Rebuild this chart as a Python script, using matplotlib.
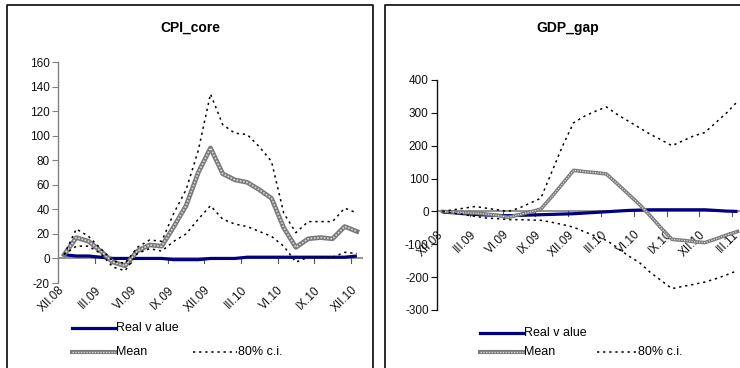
import matplotlib
matplotlib.use("Agg")
import matplotlib.pyplot as plt

plt.rcParams['font.family'] = ['Liberation Sans Narrow', 'Liberation Sans', 'DejaVu Sans']
plt.rcParams['axes.unicode_minus'] = False

# ---- data ----
cpi_labels = ["XII.08", "III.09", "VI.09", "IX.09", "XII.09", "III.10", "VI.10", "IX.10", "XII.10"]
cpi_real = [3, 2, 2, 1, 0, 0, 0, 0, 0, -1, -1, -1, 0, 0, 0, 1, 1, 1, 1, 1, 1, 1, 1, 1, 2]
cpi_mean = [3, 17, 14, 6, -3, -6, 6, 11, 10, 26, 43, 70, 90, 69, 64, 62, 56, 49, 25, 9, 16, 17, 16, 26, 22]
cpi_upper = [3, 24, 18, 8, -2, -4, 9, 15, 14, 37, 56, 88, 134, 109, 102, 101, 91, 79, 37, 21, 30, 30, 30, 41, 37]
cpi_lower = [3, 10, 10, 4, -7, -10, 4, 8, 6, 14, 20, 32, 43, 32, 28, 26, 22, 18, 10, -3, 1, 1, 1, 5, 4]

gdp_labels = ["XII.08", "III.09", "VI.09", "IX.09", "XII.09", "III.10", "VI.10", "IX.10", "XII.10", "III.11"]
gdp_real = [-2, -4, -7, -9, -11, -12, -13, -12, -11, -10, -9, -8, -7, -5,
            -3, -1, 1, 3, 4, 5, 5, 5, 5, 5, 5, 3, 1, 0]
gdp_mean = [0, -2, -4, -5, -8, -12, -18, -10, -2, 7, 45, 85, 125, 121,
            118, 114, 84, 53, 22, -13, -50, -85, -88, -92, -95, -84, -72, -61]
gdp_upper = [0, 5, 10, 15, 10, 5, 0, 10, 25, 40, 120, 200, 270, 290,
             305, 318, 295, 275, 255, 235, 218, 200, 215, 230, 240, 270, 300, 335]
gdp_lower = [0, -5, -10, -15, -20, -22, -25, -25, -26, -27, -33, -40, -48, -62,
             -75, -88, -110, -135, -155, -185, -210, -235, -228, -222, -215, -205, -193, -180]

W, H = 740, 368
fig = plt.figure(figsize=(W / 100, H / 100), dpi=100)

# full-figure overlay in pixel coordinates for frames and legends
bg = fig.add_axes([0, 0, 1, 1], zorder=0)
bg.set_xlim(0, W)
bg.set_ylim(H, 0)
bg.axis("off")
for x0, x1 in [(7, 373), (385, 760)]:
    bg.plot([x0, x0, x1, x1], [380, 5, 5, 380], color="#1a1a1a", lw=1.3, clip_on=False)

NAVY = "#000080"
DOT = (0, (1.5, 2.5))


def px_axes(left, right, top, bottom):
    return fig.add_axes([left / W, (H - bottom) / H, (right - left) / W, (bottom - top) / H])


def panel(ax, real, mean, upper, lower, labels, ylim, step, title, title_x,
          lab_y, spine_col, mean_lw):
    n = len(mean)
    x = list(range(n))
    ax.patch.set_alpha(0)
    ax.axhline(0, color="#808080", lw=1.2, zorder=1)
    ax.plot(x, real, color=NAVY, lw=2.3, solid_capstyle="butt", zorder=3)
    ax.plot(x, mean, color="#7a7a7a", lw=mean_lw, zorder=4)
    ax.plot(x, mean, color="#dcdcdc", lw=mean_lw * 0.35, ls=(0, (1, 1)), zorder=5)
    ax.plot(x, upper, color="black", lw=1.1, ls=DOT, zorder=6)
    ax.plot(x, lower, color="black", lw=1.1, ls=DOT, zorder=6)
    ax.set_xlim(-0.5, n - 0.5)
    ax.set_ylim(*ylim)
    for s in ["top", "right", "bottom"]:
        ax.spines[s].set_visible(False)
    ax.spines["left"].set_color(spine_col)
    ax.spines["left"].set_linewidth(1.0)
    ax.set_yticks(range(ylim[0], ylim[1] + 1, step))
    ax.tick_params(axis="y", direction="out", length=4, width=0.8, color=spine_col,
                   labelsize=8.5, pad=2, labelcolor="#111111")
    ax.set_xticks([])
    # category tick marks every 3 months at the zero line
    for b in range(3, n + 1, 3):
        ax.plot([b - 0.5, b - 0.5], [0, -(ylim[1] - ylim[0]) * 0.02], color="#555555",
                lw=0.8, clip_on=False)
    for i, lab in enumerate(labels):
        ax.text(i * 3 - 0.5, lab_y, lab, rotation=45, rotation_mode="anchor",
                ha="right", va="top", fontsize=8.5, color="#111111")
    fig.text(title_x / W, (H - 28) / H, title, ha="center", va="center",
             fontsize=10, fontweight="bold")


ax1 = px_axes(58, 363, 62, 283)
panel(ax1, cpi_real, cpi_mean, cpi_upper, cpi_lower, cpi_labels, (-20, 160), 20,
      "CPI_core", 190, -21, "#808080", 3.4)

ax2 = px_axes(437, 743, 80, 310)
panel(ax2, gdp_real, gdp_mean, gdp_upper, gdp_lower, gdp_labels, (-300, 400), 100,
      "GDP_gap", 568, -52, "#111111", 2.6)


def legend(x0, y_real, y_mean, xd0, xd1):
    bg.plot([x0, x0 + 43], [y_real, y_real], color=NAVY, lw=2.3)
    bg.text(x0 + 44, y_real, "Real v alue", va="center", ha="left", fontsize=9)
    bg.plot([x0, x0 + 43], [y_mean, y_mean], color="#7a7a7a", lw=3.0)
    bg.plot([x0, x0 + 43], [y_mean, y_mean], color="#dcdcdc", lw=1.0, ls=(0, (1, 1)))
    bg.text(x0 + 44, y_mean, "Mean", va="center", ha="left", fontsize=9)
    bg.plot([xd0, xd1], [y_mean, y_mean], color="black", lw=1.1, ls=DOT)
    bg.text(xd1 + 1, y_mean, "80% c.i.", va="center", ha="left", fontsize=9)


legend(72, 328, 352, 193, 237)
legend(480, 333, 352, 597, 637)

fig.savefig("out.png", dpi=100)
